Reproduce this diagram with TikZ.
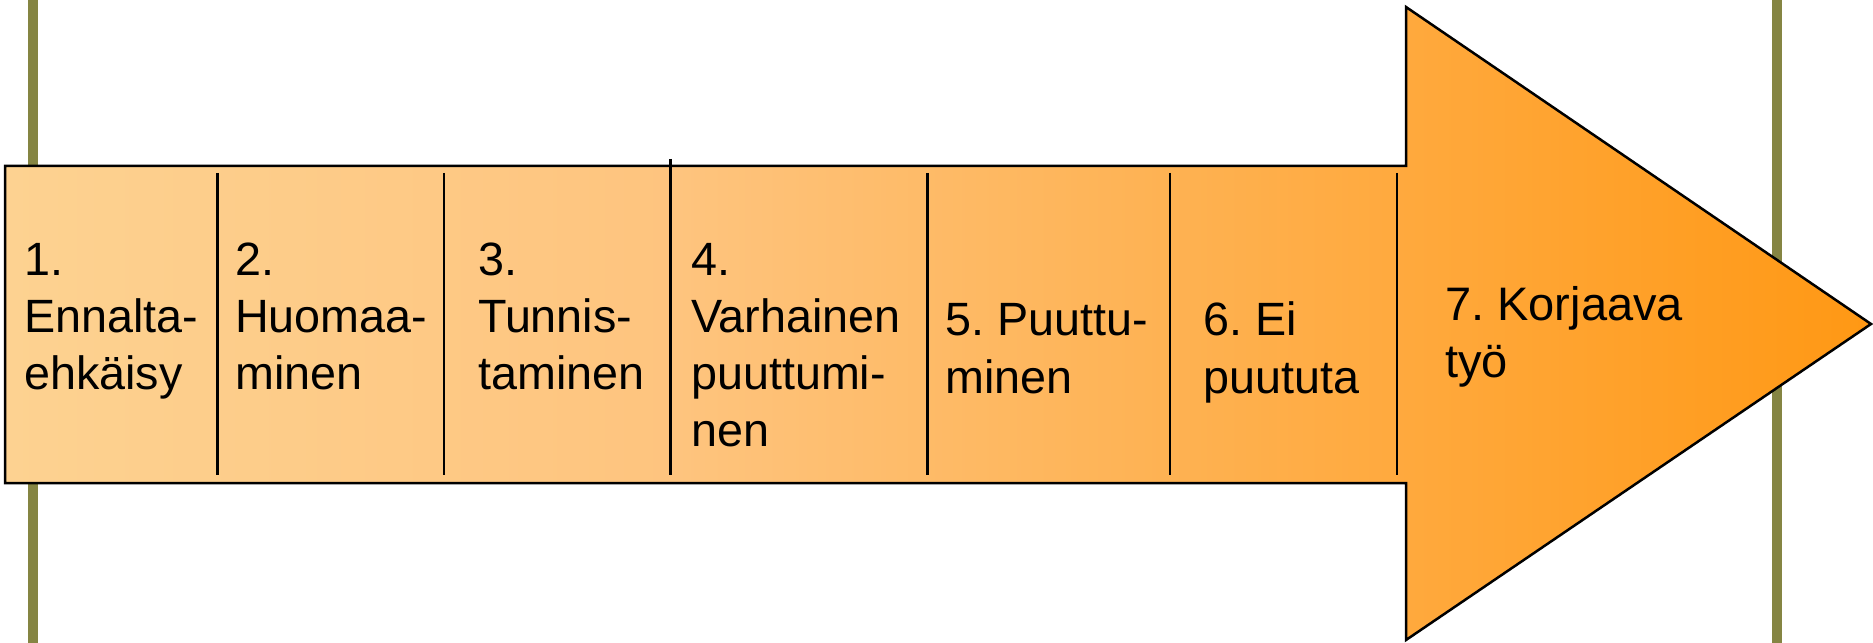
\documentclass[tikz,border=0pt]{standalone}
\usepackage{fontspec}
\setmainfont{Liberation Sans}
\frenchspacing
\definecolor{olivebar}{RGB}{133,133,67}
\definecolor{cA}{RGB}{253,210,145}
\definecolor{cB}{RGB}{254,196,126}
\definecolor{cC}{RGB}{255,152,20}
\pgfdeclarehorizontalshading{arrowshade}{100bp}{color(0bp)=(cA); color(25bp)=(cA); color(43bp)=(cB); color(75bp)=(cC); color(100bp)=(cC)}
\begin{document}
\begin{tikzpicture}[x=1bp,y=-1bp,
  bar/.style={fill=olivebar,draw=none},
  arrowshape/.style={shading=arrowshade,draw=black,line width=2.5bp,line join=miter},
  divider/.style={draw=black,line width=2.6bp},
  label/.style={anchor=base west,align=left,inner sep=0pt,text=black,
    font=\fontsize{46.7bp}{57.3bp}\selectfont\frenchspacing}]
\useasboundingbox (0,0) rectangle (1873,643);
% olive bars behind
\fill[bar] (27.5,0) rectangle (37.5,643);
\fill[bar] (1772,0) rectangle (1782,643);
% arrow
\path[arrowshape] (5,166) -- (1406,166) -- (1406,7) -- (1871,324) -- (1406,640) -- (1406,483) -- (5,483) -- cycle;
% dividers
\draw[divider] (217.5,173) -- (217.5,475);
\draw[divider] (444,173) -- (444,475);
\draw[divider] (670.5,159) -- (670.5,475);
\draw[divider] (927.5,173) -- (927.5,475);
\draw[divider] (1170,173) -- (1170,475);
\draw[divider] (1397,173) -- (1397,475);
% labels (anchored at the baseline of the last line)
\node[label] (t1) at (24,389.6) {1.\\Ennalta-\\ehkäisy};
\node[label] (t2) at (235,389.6) {2.\\Huomaa-\\minen};
\node[label] (t3) at (478,389.6) {3.\\Tunnis-\\taminen};
\node[label] (t4) at (691,446.9) {4.\\Varhainen\\puuttumi-\\nen};
\node[label] (t5) at (945,393) {5. Puuttu-\\minen};
\node[label] (t6) at (1203,393) {6. Ei\\puututa};
\node[label,font=\fontsize{47bp}{56.5bp}\selectfont\frenchspacing] (t7) at (1445,377.3) {7. Korjaava\\työ};
\end{tikzpicture}
\end{document}
